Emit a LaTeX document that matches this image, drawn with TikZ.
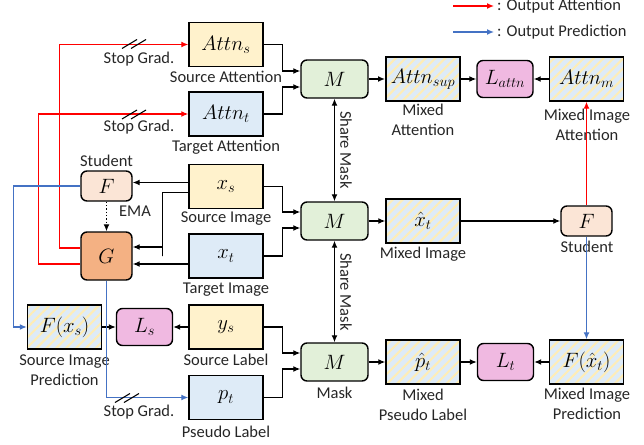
\documentclass[tikz,border=0pt]{standalone}
\usepackage{fontspec}
\setmainfont{Carlito}
\usetikzlibrary{arrows.meta,patterns.meta,calc}
\definecolor{cyel}{HTML}{FFF2CC}
\definecolor{cblu}{HTML}{DEEBF7}
\definecolor{cgrn}{HTML}{E2F0D9}
\definecolor{cstu}{HTML}{FBE5D6}
\definecolor{ctea}{HTML}{F4B183}
\definecolor{cpink}{RGB}{240,185,225}
\definecolor{cstripe}{HTML}{FFEDB5}
\definecolor{cred}{HTML}{FF0000}
\definecolor{cblue}{HTML}{4472C4}
\begin{document}
\begin{tikzpicture}[x=1pt,y=-1pt,
  mathf/.style={font=\fontsize{20}{22}\selectfont},
  basebox/.style={draw=black,line width=1.4pt,inner sep=0pt,mathf},
  databox/.style={basebox,minimum width=74pt,minimum height=44pt},
  yelbox/.style={databox,fill=cyel},
  blubox/.style={databox,fill=cblu},
  mixbox/.style={databox,preaction={fill=cblu},pattern={Lines[angle=45,distance=7pt,line width=2pt]},pattern color=cstripe},
  mbox/.style={basebox,rounded corners=6pt,fill=cgrn,minimum width=67pt,minimum height=38pt},
  lossbox/.style={basebox,rounded corners=6pt,fill=cpink,minimum width=56pt,minimum height=37pt},
  stubox/.style={basebox,rounded corners=6pt,fill=cstu,minimum width=51pt,minimum height=30pt},
  teabox/.style={basebox,rounded corners=6pt,fill=ctea,minimum width=51pt,minimum height=48pt},
  lbl/.style={font=\fontsize{16.5}{19.5}\selectfont,align=center,inner sep=0pt,text=black!85},
  arr/.style={line width=1.3pt,-{Latex[length=7pt,width=6pt]}},
  redarr/.style={arr,draw=cred},
  bluarr/.style={arr,draw=cblue},
  sgmark/.pic={\draw[line width=1.1pt] (-12,5)--(3,-4) (-3,5)--(12,-4);}
]
\useasboundingbox (0,0) rectangle (644,444);

% nodes
\node[yelbox] (attns) at (226,44.5) {$Attn_s$};
\node[blubox] (attnt) at (226,114) {$Attn_t$};
\node[mbox] (M1) at (334.5,79) {$M$};
\node[mixbox] (attnsup) at (423,79) {$Attn_{sup}$};
\node[lossbox] (Lattn) at (505,79) {$L_{attn}$};
\node[mixbox] (attnm) at (586.5,79) {$Attn_m$};

\node[stubox] (F1) at (106.5,186) {$F$};
\node[teabox] (G) at (106.5,256) {$G$};
\node[yelbox] (xs) at (226,186.5) {$x_s$};
\node[blubox] (xt) at (226,256) {$x_t$};
\node[mbox] (M2) at (334.5,221) {$M$};
\node[mixbox] (xhat) at (423,221) {$\hat{x}_t$};
\node[stubox] (F2) at (586.5,221) {$F$};

\node[mixbox] (Fxs) at (64.5,327) {$F(x_s)$};
\node[lossbox] (Ls) at (144.5,327) {$L_s$};
\node[yelbox] (ys) at (226,327) {$y_s$};
\node[blubox] (pt) at (226,397.5) {$p_t$};
\node[mbox] (M3) at (334.5,362) {$M$};
\node[mixbox] (phat) at (423,362) {$\hat{p}_t$};
\node[lossbox] (Lt) at (505.5,362) {$L_t$};
\node[mixbox] (Fxhat) at (586.5,362) {$F(\hat{x}_t)$};

% labels
\node[lbl] (l1) at (226,77) {Source Attention};
\node[lbl] (l2) at (226,147) {Target Attention};
\node[lbl] (l3) at (139,59) {Stop Grad.};
\node[lbl] (l4) at (139,127) {Stop Grad.};
\node[lbl] (l5) at (139,412) {Stop Grad.};
\node[lbl] (l6) at (106.5,161) {Student};
\node[lbl] (l7) at (135,211) {EMA};
\node[lbl] (l8) at (226,219) {Source Image};
\node[lbl] (l9) at (226,290) {Target Image};
\node[lbl] (l11) at (64.5,370) {Source Image\\Prediction};
\node[lbl] (l12) at (226,360) {Source Label};
\node[lbl] (l13) at (226,432) {Pseudo Label};
\node[lbl] (l14) at (334.5,393) {Mask};
\node[lbl] (l15) at (423,120) {Mixed\\Attention};
\node[lbl] (l16) at (587,125) {Mixed Image\\Attention};
\node[lbl] (l17) at (423,254) {Mixed Image};
\node[lbl] (l18) at (587,247) {Student};
\node[lbl] (l19) at (423,405) {Mixed\\Pseudo Label};
\node[lbl] (l20) at (587,404) {Mixed Image\\Prediction};
\node[lbl,rotate=-90] (sm1) at (346,150) {Share Mask};
\node[lbl,rotate=-90] (sm2) at (346,292) {Share Mask};

% legend
\coordinate (lr) at (453,6);
\coordinate (lb) at (453,32);
\node[lbl,anchor=west] (legr) at (497,6) {: Output Attention};
\node[lbl,anchor=west] (legb) at (497,32) {: Output Prediction};
\draw[redarr] (lr) -- ([xshift=-3pt]legr.west);
\draw[bluarr] (lb) -- ([xshift=-3pt]legb.west);

% inputs to M boxes
\draw[arr] (attns.east) -| ($(M1.west)+(-18,-8)$) -- ([yshift=8pt]M1.west);
\draw[arr] (attnt.east) -| ($(M1.west)+(-18,8)$) -- ([yshift=-8pt]M1.west);
\draw[arr] (xs.east) -| ($(M2.west)+(-18,-9)$) -- ([yshift=9pt]M2.west);
\draw[arr] (xt.east) -| ($(M2.west)+(-18,7)$) -- ([yshift=-7pt]M2.west);
\draw[arr] (ys.east) -| ($(M3.west)+(-18,-9)$) -- ([yshift=9pt]M3.west);
\draw[arr] (pt.east) -| ($(M3.west)+(-18,7)$) -- ([yshift=-7pt]M3.west);

% share mask
\draw[arr,{Latex[length=7pt,width=6pt]}-{Latex[length=7pt,width=6pt]}] (M1.south) -- (M2.north);
\draw[arr,{Latex[length=7pt,width=6pt]}-{Latex[length=7pt,width=6pt]}] (M2.south) -- (M3.north);

% rows
\draw[arr] (M1.east) -- (M1.east -| attnsup.west);
\draw[arr] (attnsup.east) -- (attnsup.east -| Lattn.west);
\draw[arr] (attnm.west) -- (attnm.west -| Lattn.east);
\draw[arr] (M2.east) -- (M2.east -| xhat.west);
\draw[arr] (xhat.east) -- (xhat.east -| F2.west);
\draw[arr] (M3.east) -- (M3.east -| phat.west);
\draw[arr] (phat.east) -- (phat.east -| Lt.west);
\draw[arr] (Fxhat.west) -- (Fxhat.west -| Lt.east);
\draw[arr] (Fxs.east) -- (Fxs.east -| Ls.west);
\draw[arr] (ys.west) -- (ys.west -| Ls.east);

% left side
\draw[arr] ([yshift=4pt]xs.west) -- ([yshift=4pt]xs.west -| F1.east);
\draw[arr] ([yshift=-6pt]xs.west) -| ($(G.east)+(30,0)$) |- ([yshift=9pt]G.east);
\draw[arr] ([yshift=-8pt]xt.west) -- ([yshift=-8pt]G.east);
\draw[arr,dotted,line width=1.3pt] (F1.south) -- (G.north);

% red
\draw[redarr] ($(G.west)+(0,-8)$) -| ($(attns.west)+(-129,0)$) -- (attns.west);
\draw[redarr] ($(G.west)+(0,8)$) -| ($(attnt.west)+(-150,0)$) -- (attnt.west);
\draw[redarr] (F2.north) -- (attnm.south);

% blue
\draw[bluarr] (F1.west) -| ($(Fxs.west)+(-13,0)$) -- (Fxs.west);
\draw[bluarr] (G.south) |- (pt.west);
\draw[bluarr] (F2.south) -- (Fxhat.north);

% stop grad marks
\pic at (134,43.5) {sgmark};
\pic at (134,114) {sgmark};
\pic at (127,397.5) {sgmark};
\end{tikzpicture}
\end{document}
